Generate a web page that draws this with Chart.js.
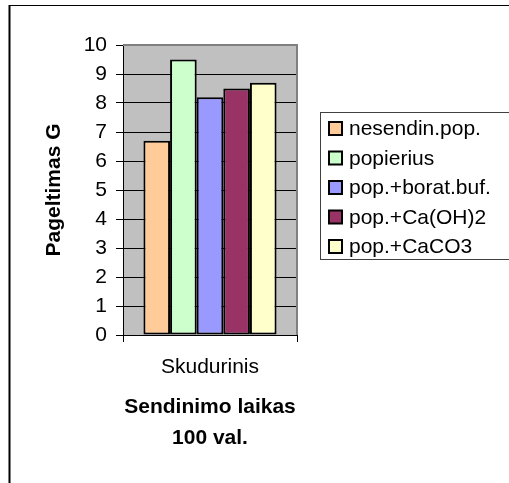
<!DOCTYPE html>
<html>
<head>
<meta charset="utf-8">
<script src="https://cdn.jsdelivr.net/npm/chart.js@4/dist/chart.umd.min.js"></script>
<style>
  html, body { margin: 0; padding: 0; background: #ffffff; }
  #wrap { position: relative; width: 509px; height: 483px; }
</style>
</head>
<body>
<div id="wrap"><canvas id="agingChart" width="509" height="483"></canvas></div>
<script>
// Yellowing index after 100 h of ageing, rag paper
const categories = ['Skudurinis'];
const seriesNames = ['nesendin.pop.', 'popierius', 'pop.+borat.buf.', 'pop.+Ca(OH)2', 'pop.+CaCO3'];
const seriesValues = [6.7, 9.5, 8.2, 8.5, 8.7];
const seriesColors = ['#FFCC99', '#CCFFCC', '#9999FF', '#993366', '#FFFFCC'];
const yTicks = [0, 1, 2, 3, 4, 5, 6, 7, 8, 9, 10];

const fontFamily = "'Liberation Sans', Arial, sans-serif";
const fontSize = 21;

// gray plot area, gray top/right edge, outer frame and the side legend
const excelLook = {
    id: 'excelLook',
    beforeDraw(chart) {
        const { ctx, chartArea: a } = chart;
        ctx.save();
        ctx.fillStyle = '#C0C0C0';
        ctx.fillRect(a.left, a.top, a.right - a.left, a.bottom - a.top);
        ctx.restore();
    },
    afterDraw(chart) {
        const { ctx, chartArea: a } = chart;
        ctx.save();
        // plot edge
        ctx.strokeStyle = '#808080';
        ctx.lineWidth = 2;
        ctx.beginPath();
        ctx.moveTo(a.left, a.top);
        ctx.lineTo(a.right, a.top);
        ctx.lineTo(a.right, a.bottom);
        ctx.stroke();

        // outer frame
        ctx.strokeStyle = '#000000';
        ctx.lineWidth = 1;
        ctx.beginPath();
        ctx.moveTo(9, 5.5);
        ctx.lineTo(520, 5.5);
        ctx.stroke();
        ctx.lineWidth = 2;
        ctx.beginPath();
        ctx.moveTo(9.5, 490);
        ctx.lineTo(9.5, 5);
        ctx.stroke();

        // legend box
        const lx = 320.5, ly = 112.5, rowH = 29.5;
        ctx.lineWidth = 1;
        ctx.strokeStyle = '#404040';
        ctx.strokeRect(lx, ly, 220, 147);
        ctx.font = fontSize + 'px ' + fontFamily;
        ctx.textBaseline = 'middle';
        chart.data.datasets.forEach((ds, i) => {
            const cy = ly + 16 + i * rowH;
            ctx.fillStyle = ds.backgroundColor;
            ctx.fillRect(329, cy - 6.5, 13, 13);
            ctx.strokeStyle = '#000000';
            ctx.lineWidth = 2;
            ctx.strokeRect(329, cy - 6.5, 13, 13);
            ctx.fillStyle = '#000000';
            ctx.fillText(ds.label, 349, cy + 1);
        });
        ctx.restore();
    }
};

const datasets = seriesNames.map((name, i) => ({
    label: name,
    data: [seriesValues[i]],
    backgroundColor: seriesColors[i],
    borderColor: '#000000',
    borderWidth: 2,
    borderSkipped: false,
    barPercentage: 1.0,
    categoryPercentage: 0.765
}));

new Chart(document.getElementById('agingChart'), {
    type: 'bar',
    data: { labels: categories, datasets },
    options: {
        responsive: false,
        animation: false,
        layout: { padding: { left: 10, top: 45, right: 212, bottom: 0 } },
        plugins: {
            legend: { display: false },
            tooltip: { enabled: false }
        },
        scales: {
            x: {
                afterFit: scale => { scale.height = 148; },
                grid: {
                    offset: true,
                    drawOnChartArea: false,
                    drawTicks: true,
                    tickLength: 7,
                    color: '#000000'
                },
                border: { display: true, color: '#000000', width: 1 },
                ticks: {
                    color: '#000000',
                    padding: 13,
                    font: { family: fontFamily, size: fontSize }
                },
                title: {
                    display: true,
                    text: ['Sendinimo laikas', '100 val.'],
                    color: '#000000',
                    font: { family: fontFamily, size: fontSize, weight: 'bold', lineHeight: 1.476 },
                    padding: { top: 0, bottom: 29.5 }
                }
            },
            y: {
                min: 0,
                max: 10,
                afterFit: scale => { scale.width = 113; },
                afterBuildTicks: scale => { scale.ticks = yTicks.map(v => ({ value: v })); },
                grid: {
                    color: '#000000',
                    drawTicks: true,
                    tickLength: 7
                },
                border: { display: true, color: '#000000', width: 1 },
                ticks: {
                    color: '#000000',
                    padding: 9,
                    font: { family: fontFamily, size: fontSize }
                },
                title: {
                    display: true,
                    text: 'Pageltimas G',
                    color: '#000000',
                    font: { family: fontFamily, size: fontSize, weight: 'bold' },
                    padding: { top: 32, bottom: 0 }
                }
            }
        }
    },
    plugins: [excelLook]
});
</script>
</body>
</html>
